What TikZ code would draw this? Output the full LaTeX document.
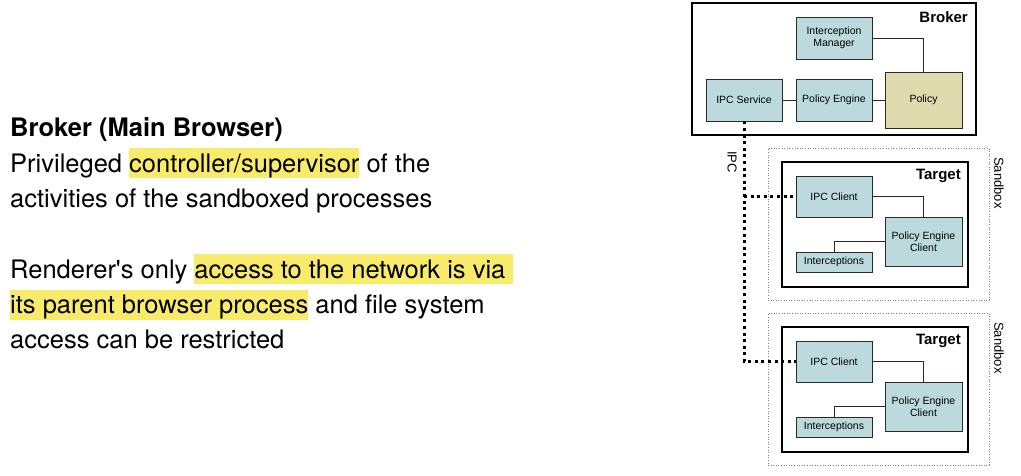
\documentclass[tikz,border=0pt]{standalone}
\usepackage{fontspec}
\setmainfont{TeX Gyre Heros}
\newfontfamily\diagfont{Liberation Sans}
\definecolor{hly}{HTML}{F8EA6A}
\definecolor{boxfill}{HTML}{BCDADD}
\definecolor{polfill}{HTML}{E0DAAF}
\definecolor{edgecol}{HTML}{2A2A2A}
\newcommand{\hlmark}[1]{{\setlength{\fboxsep}{0pt}\colorbox{hly}{\rule[-6pt]{0pt}{30pt}#1}}}
\tikzset{
  comp/.style={draw=edgecol, line width=0.9pt, fill=boxfill, inner sep=1pt,
    minimum width=76, minimum height=42, align=center,
    font=\diagfont\fontsize{10.5}{12}\selectfont},
  frame/.style={draw=black, line width=2pt, inner sep=0pt},
  sandboxframe/.style={draw=gray, line width=0.6pt, dotted, inner sep=0pt},
  wire/.style={draw=edgecol, line width=0.8pt},
  ipcwire/.style={draw=black, line width=3pt, dash pattern=on 3pt off 3.6pt},
  title/.style={font=\diagfont\bfseries\fontsize{15}{17}\selectfont, inner sep=0pt},
  sidelabel/.style={font=\diagfont\fontsize{13}{15}\selectfont, rotate=-90, inner sep=0pt},
  bodyline/.style={anchor=base west, inner sep=0pt, font=\fontsize{25.5}{30}\selectfont}
}
\begin{document}
\begin{tikzpicture}[x=1pt, y=-1pt]
\useasboundingbox (0,0) rectangle (1021,476);

% explanatory text on the left
\node[bodyline] (t1) at (10,137) {\bfseries Broker (Main Browser)};
\node[bodyline] (t2) at (10,172.3) {Privileged \hlmark{controller/supervisor} of the};
\node[bodyline] (t3) at (10,207.6) {activities of the sandboxed processes};
\node[bodyline] (t5) at (10,278.2) {Renderer\textquotesingle s only \hlmark{access to the network is via }};
\node[bodyline] (t6) at (10,313.5) {\hlmark{its parent browser process} and file system};
\node[bodyline] (t7) at (10,348.8) {access can be restricted};

% broker process
\node[frame, minimum width=284, minimum height=132] (broker) at (834,69) {};
\node[title, anchor=north east] (brokertitle) at (968,11) {Broker};
\node[comp] (im) at (834,38) {Interception\\Manager};
\node[comp] (ipcs) at (744,100) {IPC Service};
\node[comp] (pe) at (834,100) {Policy Engine};
\node[comp, fill=polfill, minimum width=77, minimum height=56] (pol) at (923.5,100) {Policy};
\draw[wire] (ipcs) -- (pe);
\draw[wire] (pe) -- (pol);
\draw[wire] (im.east) -| (pol.north);

% sandboxed targets
\foreach \i/\dy in {1/0, 2/165} {
  \node[sandboxframe, minimum width=221, minimum height=152] (sb\i) at (878.5,224+\dy) {};
  \node[sidelabel, anchor=north west] (sbl\i) at (1004,157+\dy) {Sandbox};
  \node[frame, minimum width=186, minimum height=125] (tg\i) at (875,224.5+\dy) {};
  \node[title, anchor=north east] (tgt\i) at (961,169+\dy) {Target};
  \node[comp, minimum height=41] (ipcc\i) at (834,196.5+\dy) {IPC Client};
  \node[comp, minimum width=77, minimum height=49] (pec\i) at (923.5,241.5+\dy) {Policy Engine\\Client};
  \node[comp, minimum height=20] (intc\i) at (834,262+\dy) {Interceptions};
  \draw[wire] (ipcc\i.east) -| (pec\i.north);
  \draw[wire] (pec\i.west) -| (intc\i.north);
}

% IPC channel between broker and targets
\coordinate (ipcjoin) at (ipcs.south |- ipcc1.west);
\draw[ipcwire] (ipcs.south) -- (ipcs.south |- ipcc2.west) -- (ipcc2.west);
\draw[ipcwire] (ipcjoin) -- (ipcc1.west);
\node[sidelabel, anchor=north west] (ipclabel) at (737,151) {IPC};
\end{tikzpicture}
\end{document}
